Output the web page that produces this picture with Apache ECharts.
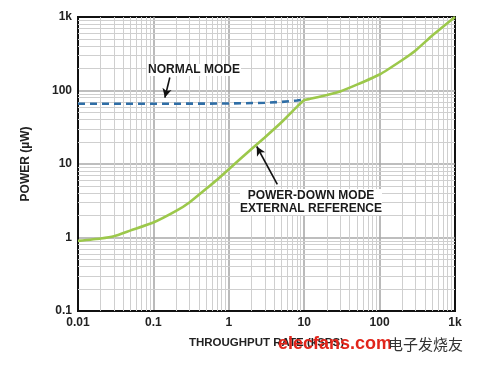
<!DOCTYPE html>
<html><head><meta charset="utf-8">
<script src="https://cdn.jsdelivr.net/npm/echarts@6/dist/echarts.min.js"></script>
<style>html,body{margin:0;padding:0;background:#fff}#c{width:481px;height:365px}</style>
</head><body><div id="c"></div>
<script>
// Throughput rate (kSPS) vs power (uW)
const powerDownX = [0.01, 0.02, 0.03, 0.05, 0.1, 0.2, 0.3, 0.5, 0.7, 1, 2, 3, 5, 8, 10, 12, 20, 30, 50, 100, 200, 300, 500, 1000];
const powerDownY = [0.9, 0.97, 1.04, 1.25, 1.6, 2.3, 3.0, 4.6, 6.1, 8.5, 16, 23, 37, 60, 74, 77, 87, 97, 120, 165, 260, 350, 560, 1000];
const normalX = [0.01, 0.1, 1, 3, 5, 8, 10];
const normalY = [66, 66, 66.5, 68, 70, 73, 75];
const xTickLabels = {'-2':'0.01','-1':'0.1','0':'1','1':'10','2':'100','3':'1k'};
const yTickLabels = {'-1':'0.1','0':'1','1':'10','2':'100','3':'1k'};

const xMinor = [], yMinor = [];
for (let k = -2; k <= 2; k++) for (let m = 2; m <= 9; m++) xMinor.push(m * Math.pow(10, k));
for (let k = -1; k <= 2; k++) for (let m = 2; m <= 9; m++) yMinor.push(m * Math.pow(10, k));

const F = 'Liberation Sans, Arial, Helvetica, sans-serif';
const chart = echarts.init(document.getElementById('c'), null, {renderer: 'canvas'});
const lbl = (map) => (v) => map[String(Math.round(Math.log10(v)))] || '';

chart.setOption({
  animation: false,
  backgroundColor: '#fff',
  grid: {left: 78, right: 26, top: 17, bottom: 54, show: true, borderColor: '#111', borderWidth: 2, backgroundColor: 'transparent'},
  xAxis: {
    type: 'log', logBase: 10, min: 0.01, max: 1000,
    name: 'THROUGHPUT RATE (kSPS)', nameLocation: 'middle', nameGap: 26,
    nameTextStyle: {fontFamily: F, fontWeight: 'bold', fontSize: 11.5, color: '#222'},
    axisLine: {show: true, lineStyle: {color: '#111', width: 2}},
    axisTick: {show: false},
    axisLabel: {formatter: lbl(xTickLabels), fontFamily: F, fontWeight: 'bold', fontSize: 12, color: '#222', margin: 6},
    splitLine: {show: true, showMinLine: false, showMaxLine: false, lineStyle: {color: '#a9a9a9', width: 1.6}}
  },
  yAxis: {
    type: 'log', logBase: 10, min: 0.1, max: 1000,
    name: 'POWER (µW)', nameLocation: 'middle', nameGap: 46, nameRotate: 90,
    nameTextStyle: {fontFamily: F, fontWeight: 'bold', fontSize: 12, color: '#222'},
    axisLine: {show: true, lineStyle: {color: '#111', width: 2}},
    axisTick: {show: false},
    axisLabel: {formatter: lbl(yTickLabels), fontFamily: F, fontWeight: 'bold', fontSize: 12, color: '#222', margin: 6},
    splitLine: {show: true, showMinLine: false, showMaxLine: false, lineStyle: {color: '#a9a9a9', width: 1.6}}
  },
  series: [
    {
      type: 'line', data: [], z: 1, silent: true,
      markLine: {
        z: 1, silent: true, symbol: 'none', label: {show: false}, animation: false,
        lineStyle: {color: '#cfcfcf', width: 1, type: 'solid'},
        data: xMinor.map(v => ({xAxis: v})).concat(yMinor.map(v => ({yAxis: v})))
      }
    },
    {
      name: 'NORMAL MODE', type: 'line', z: 3, symbol: 'none',
      data: normalX.map((x, i) => [x, normalY[i]]),
      lineStyle: {color: '#2f6ea6', width: 2.6, type: [7, 5]}
    },
    {
      name: 'POWER-DOWN MODE', type: 'line', z: 4, symbol: 'none', smooth: 0.15,
      data: powerDownX.map((x, i) => [x, powerDownY[i]]),
      lineStyle: {color: '#9cc84b', width: 2.6}
    },
    {
      type: 'line', data: [], z: 5, silent: true,
      markLine: {
        z: 6, silent: true, symbol: ['none', 'arrow'], symbolSize: [7, 9], label: {show: false}, animation: false,
        lineStyle: {color: '#111', width: 1.6, type: 'solid'},
        data: [
          [{coord: [0.165, 150]}, {coord: [0.142, 80]}],
          [{coord: [4.4, 5.3]}, {coord: [2.35, 17.3]}]
        ]
      }
    }
  ],
  graphic: [
    {type: 'text', left: 147, top: 64, z: 10, style: {text: 'NORMAL MODE', fontFamily: F, fontWeight: 'bold', fontSize: 12, fill: '#1a1a1a', backgroundColor: '#fff', padding: [0, 1]}},
    {type: 'text', x: 311, y: 189, z: 10, style: {text: 'POWER-DOWN MODE\nEXTERNAL REFERENCE', align: 'center', lineHeight: 13, fontFamily: F, fontWeight: 'bold', fontSize: 12, fill: '#1a1a1a', backgroundColor: '#fff'}},
    {type: 'text', x: 278, y: 335, z: 10, style: {text: 'elecfans.com', fontFamily: F, fontSize: 18, fontWeight: 'bold', fill: '#e1251b'}},
    {type: 'text', x: 388, y: 337, z: 10, style: {text: '电子发烧友', fontFamily: 'Noto Sans CJK SC', fontSize: 15, fill: '#333'}}
  ]
});
</script></body></html>
